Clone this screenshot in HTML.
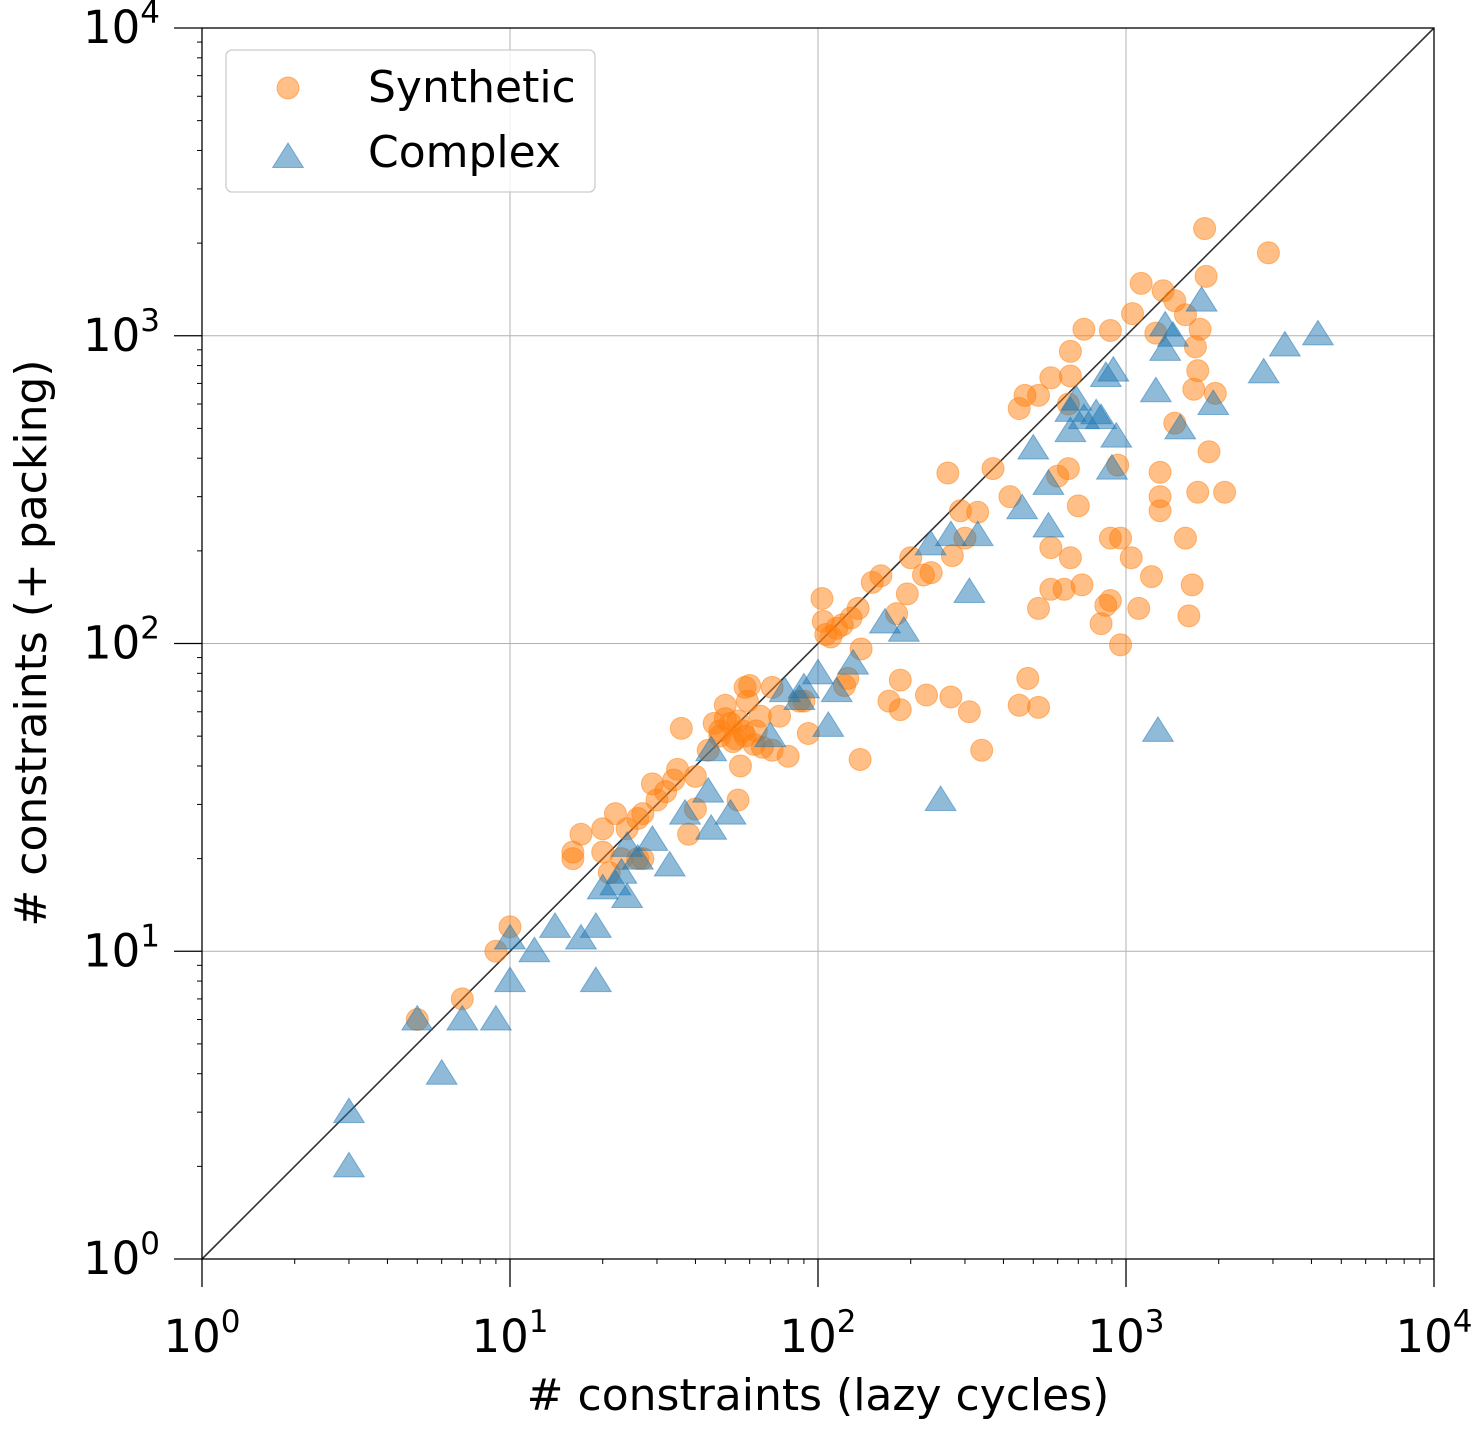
<!DOCTYPE html>
<html><head><meta charset="utf-8"><style>
body{margin:0;background:#fff}
svg{display:block;font-family:"DejaVu Sans","Liberation Sans",sans-serif}
</style></head><body>
<svg id="chart" width="1482" height="1429" viewBox="0 0 1482 1429" xmlns="http://www.w3.org/2000/svg">
<rect width="1482" height="1429" fill="#fff"/>
<g id="grid"></g>
<g id="marks"></g>
<g id="axes"></g>
</svg>
<script>
const synthX=[5,7,9,10,16,16,17,20,22,20,21,23,24,26,27,26,27,29,30,32,34,35,36,38,40,40,44,48,50,55,50,52,54,56,57,59,60,58,63,65,71,71,75,80,87,90,93,103,104,110,106,115,120,128,135,138,122,125,137,150,160,180,195,200,220,233,264,273,290,300,330,370,420,450,470,520,570,600,650,650,660,660,700,730,890,1050,1120,1250,1320,1440,1560,1680,1740,1800,1820,1950,1860,1710,1710,2090,2900,1290,1290,1290,1440,1660,1560,1640,1600,1210,1100,1040,960,890,890,860,830,960,720,660,570,570,520,630,480,450,520,340,310,270,225,185,170,185,940,46,48,53,55,58,62,66];
const synthY=[6,7,10,12,21,20,24,25,28,21,18,20,25,20,20,27,28,35,31,33,36,39,53,24,29,37,45,50,57,31,63,55,49,40,52,65,73,72,52,58,72,45,58,43,65,65,51,140,118,105,107,112,115,121,130,96,73,77,42,158,166,125,145,190,167,170,358,193,270,220,267,370,300,580,640,640,730,350,370,600,890,740,280,1050,1040,1180,1480,1020,1400,1300,1170,920,1050,2230,1560,650,420,770,310,310,1860,360,300,270,520,670,220,155,123,165,130,190,220,220,138,133,116,99,155,190,205,150,130,150,77,63,62,45,60,67,68,76,65,61,380,55,52,48,56,50,47,46];
const complexX=[3,3,5,6,7,9,10,10,12,14,17,19,19,20,22,23,24,24,26,29,33,37,45,44,45,52,70,78,87,90,100,108,115,130,165,190,232,270,330,310,250,460,500,560,560,660,660,690,730,830,800,860,910,930,900,1250,1340,1340,1420,1500,1760,1920,1270,2800,3280,4200];
const complexY=[2,3,6,4,6,6,11,8,10,12,11,12,8,16,16.5,18,15,22,20,23,19,28,25,33,45,28,50,70,66,72,80,54,70,86,117,110,210,225,225,147,31,275,430,330,240,570,490,620,540,540,560,740,770,470,370,660,900,1080,1000,500,1300,600,52,760,930,1010];
const xTicks=["0","1","2","3","4"], yTicks=["0","1","2","3","4"];
const L=202,R=1434,T=28,B=1259;
const sx=v=>L+(Math.log10(v)/4)*(R-L);
const sy=v=>B-(Math.log10(v)/4)*(B-T);
const NS="http://www.w3.org/2000/svg";
function mk(tag,attrs,parent){const e=document.createElementNS(NS,tag);for(const k in attrs)e.setAttribute(k,attrs[k]);parent.appendChild(e);return e;}
const grid=document.getElementById('grid'),marks=document.getElementById('marks'),axes=document.getElementById('axes');
for(let d=0;d<=4;d++){
  const x=sx(Math.pow(10,d)),y=sy(Math.pow(10,d));
  const gx=mk('line',{x1:x,x2:x,y1:T,y2:B,stroke:'#b0b0b0','stroke-width':1},grid);
  
  
  const gy=mk('line',{x1:L,x2:R,y1:y,y2:y,stroke:'#b0b0b0','stroke-width':1},grid);
  
  
}
const diag=mk('line',{x1:sx(1),y1:sy(1),x2:sx(10000),y2:sy(10000),stroke:'#333','stroke-width':1.6},marks);


synthX.forEach((v,i)=>{
  const c=mk('circle',{cx:sx(v),cy:sy(synthY[i]),r:11,fill:'#ff7f0e','fill-opacity':0.5,stroke:'#ff7f0e','stroke-opacity':0.5},marks);
  
  
});
function tri(cx,cy,s){return `${cx},${cy-s} ${cx-s*1.1},${cy+s*0.75} ${cx+s*1.1},${cy+s*0.75}`;}
complexX.forEach((v,i)=>{
  const p=mk('polygon',{points:tri(sx(v),sy(complexY[i]),14),fill:'#1f77b4','fill-opacity':0.5,stroke:'#1f77b4','stroke-opacity':0.5},marks);
  
  
});
mk('rect',{x:L,y:T,width:R-L,height:B-T,fill:'none',stroke:'#000','stroke-width':1.3},axes);
for(let d=0;d<=4;d++){
  const x=sx(Math.pow(10,d)),y=sy(Math.pow(10,d));
  mk('line',{x1:x,x2:x,y1:B,y2:B+28,stroke:'#000','stroke-width':1.3},axes);
  mk('line',{x1:L-28,x2:L,y1:y,y2:y,stroke:'#000','stroke-width':1.3},axes);
  const tx=mk('text',{x:x,y:1352,'font-size':45,'text-anchor':'middle',fill:'#000'},axes);
  tx.innerHTML='10<tspan dy="-20" font-size="31">'+xTicks[d]+'</tspan>';
  
  
  const ty=mk('text',{x:160,y:y+15,'font-size':45,'text-anchor':'end',fill:'#000'},axes);
  ty.innerHTML='10<tspan dy="-20" font-size="31">'+yTicks[d]+'</tspan>';
  
  
  if(d<4){for(let m=2;m<=9;m++){const v=m*Math.pow(10,d);
    mk('line',{x1:sx(v),x2:sx(v),y1:B,y2:B+5,stroke:'#000','stroke-width':1},axes);
    mk('line',{x1:L-5,x2:L,y1:sy(v),y2:sy(v),stroke:'#000','stroke-width':1},axes);}}
}
const xl=mk('text',{x:818,y:1410,'font-size':44,'text-anchor':'middle',fill:'#000'},axes);
xl.textContent='# constraints (lazy cycles)';


const yl=mk('text',{x:0,y:0,'font-size':44,'text-anchor':'middle',fill:'#000',transform:'translate(46,643) rotate(-90)'},axes);
yl.textContent='# constraints (+ packing)';


const lg=mk('g',{},axes);


mk('rect',{x:226,y:50,width:369,height:142,rx:6,fill:'#fff','fill-opacity':0.8,stroke:'#ccc','stroke-width':1.3},lg);
const l1=mk('circle',{cx:288,cy:88,r:11,fill:'#ff7f0e','fill-opacity':0.5,stroke:'#ff7f0e','stroke-opacity':0.5},lg);


const l2=mk('polygon',{points:tri(288,157,14),fill:'#1f77b4','fill-opacity':0.5,stroke:'#1f77b4','stroke-opacity':0.5},lg);


const t1=mk('text',{x:368,y:102,'font-size':44,fill:'#000'},lg);t1.textContent='Synthetic';


const t2=mk('text',{x:368,y:167,'font-size':44,fill:'#000'},lg);t2.textContent='Complex';


</script>
</body></html>
